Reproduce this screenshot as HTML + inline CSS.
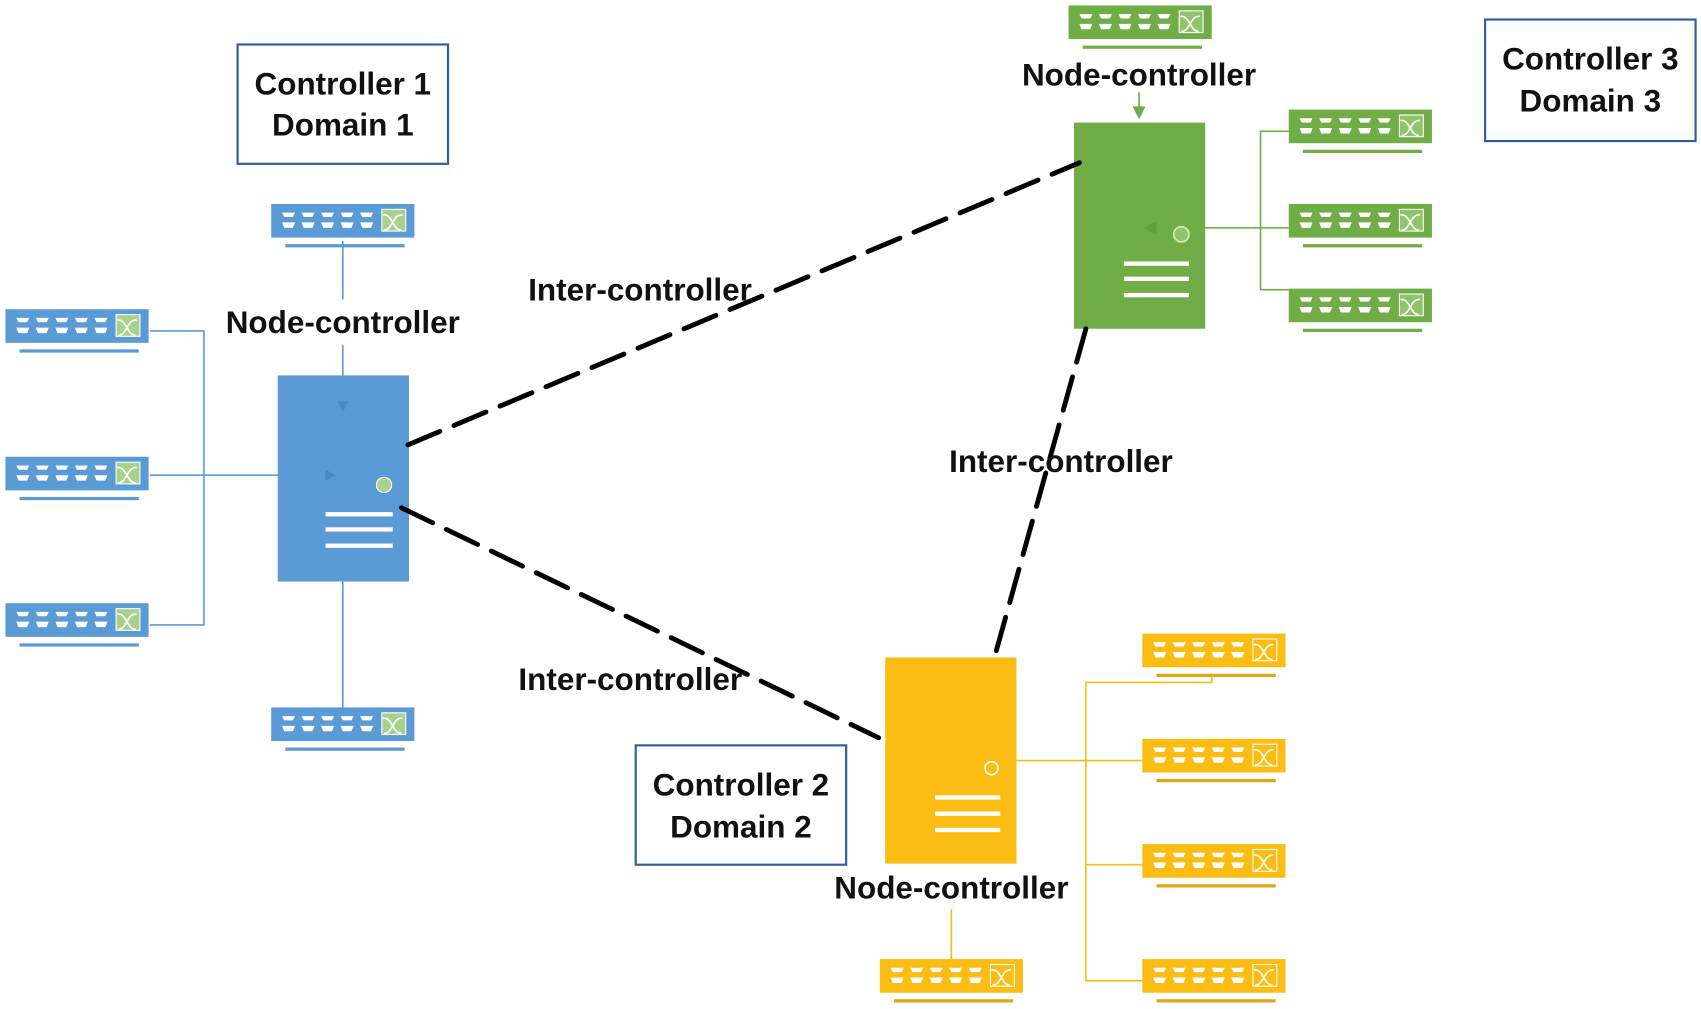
<!DOCTYPE html>
<html><head><meta charset="utf-8"><style>
html,body{margin:0;padding:0;background:#fff;width:1701px;height:1009px;overflow:hidden}
svg{display:block}
text{font-family:"Liberation Sans",sans-serif;font-weight:bold;fill:#111}
</style></head><body>
<svg width="1701" height="1009" viewBox="0 0 1568 930" preserveAspectRatio="none" xmlns="http://www.w3.org/2000/svg">
<defs>
<g id="ports" fill="#fff">
  <path d="M10 8h12l-2 4h-8z M28 8h12l-2 4h-8z M46 8h12l-2 4h-8z M64 8h12l-2 4h-8z M82 8h12l-2 4h-8z"/>
  <path d="M10 17h12l-2 5h-8z M28 17h12l-2 5h-8z M46 17h12l-2 5h-8z M64 17h12l-2 5h-8z M82 17h12l-2 5h-8z"/>
</g>
<g id="xicon" fill="none" stroke="#fff" stroke-width="1.5">
  <path d="M104 10 c8 0 8 14 16 14 M104 24 c8 0 8 -14 16 -14 M104 10h-1 M120 10h1"/>
</g>
</defs>

<g fill="#5b9bd5">
  <g stroke="#5b9bd5" stroke-width="1.5" fill="none">
    <line x1="316" y1="222" x2="316" y2="276"/>
    <line x1="316" y1="318" x2="316" y2="380"/>
    <polyline points="138,305 188,305 188,576 138,576"/>
    <line x1="138" y1="438" x2="310" y2="438"/>
    <line x1="316" y1="536" x2="316" y2="652"/>
  </g>
  <rect x="256" y="346" width="121" height="190"/>
  <path d="M311 370l5 10 5-10z M300 433l10 5-10 5z" fill="#4a88c4"/>
  <circle cx="354" cy="447" r="7" fill="#a9d18e" stroke="#fff" stroke-width="1"/>
  <g fill="#fff"><rect x="300" y="472" width="62" height="4"/><rect x="300" y="486" width="62" height="4"/><rect x="300" y="501" width="62" height="4"/></g>
</g>

<g>
  <g transform="translate(250,188)"><rect width="132" height="31" fill="#5b9bd5"/><rect x="13" y="37" width="110" height="3" fill="#5b9bd5"/><use href="#ports"/><rect x="102" y="5" width="22" height="20" fill="#a9d18e" stroke="#fff"/><use href="#xicon"/></g>
  <g transform="translate(5,285)"><rect width="132" height="31" fill="#5b9bd5"/><rect x="13" y="37" width="110" height="3" fill="#5b9bd5"/><use href="#ports"/><rect x="102" y="5" width="22" height="20" fill="#a9d18e" stroke="#fff"/><use href="#xicon"/></g>
  <g transform="translate(5,421)"><rect width="132" height="31" fill="#5b9bd5"/><rect x="13" y="37" width="110" height="3" fill="#5b9bd5"/><use href="#ports"/><rect x="102" y="5" width="22" height="20" fill="#a9d18e" stroke="#fff"/><use href="#xicon"/></g>
  <g transform="translate(5,556)"><rect width="132" height="31" fill="#5b9bd5"/><rect x="13" y="37" width="110" height="3" fill="#5b9bd5"/><use href="#ports"/><rect x="102" y="5" width="22" height="20" fill="#a9d18e" stroke="#fff"/><use href="#xicon"/></g>
  <g transform="translate(250,652)"><rect width="132" height="31" fill="#5b9bd5"/><rect x="13" y="37" width="110" height="3" fill="#5b9bd5"/><use href="#ports"/><rect x="102" y="5" width="22" height="20" fill="#a9d18e" stroke="#fff"/><use href="#xicon"/></g>
</g>

<g stroke="#70ad47" stroke-width="1.5" fill="none">
  <line x1="1050" y1="85" x2="1050" y2="104"/>
  <polyline points="1188,121 1162,121 1162,267 1188,267"/>
  <line x1="1188" y1="210" x2="1060" y2="210"/>
</g>
<path d="M1044 98h12l-6 12z" fill="#70ad47"/>
<rect x="990" y="113" width="121" height="190" fill="#70ad47"/>
<path d="M1066 204l-12 6 12 6z" fill="#63a03c"/>
<circle cx="1089" cy="216" r="7" fill="#8fc46a" stroke="#d6ecc6" stroke-width="1.5"/>
<g fill="#fff"><rect x="1036" y="241" width="60" height="4"/><rect x="1036" y="255" width="60" height="4"/><rect x="1036" y="270" width="60" height="4"/></g>
<g transform="translate(985,5)"><rect width="132" height="31" fill="#70ad47"/><rect x="13" y="37" width="110" height="3" fill="#70ad47"/><use href="#ports"/><rect x="102" y="5" width="22" height="20" fill="#8fc46a" stroke="#fff"/><use href="#xicon"/></g>
<g transform="translate(1188,101)"><rect width="132" height="31" fill="#70ad47"/><rect x="13" y="37" width="110" height="3" fill="#70ad47"/><use href="#ports"/><rect x="102" y="5" width="22" height="20" fill="#8fc46a" stroke="#fff"/><use href="#xicon"/></g>
<g transform="translate(1188,188)"><rect width="132" height="31" fill="#70ad47"/><rect x="13" y="37" width="110" height="3" fill="#70ad47"/><use href="#ports"/><rect x="102" y="5" width="22" height="20" fill="#8fc46a" stroke="#fff"/><use href="#xicon"/></g>
<g transform="translate(1188,266)"><rect width="132" height="31" fill="#70ad47"/><rect x="13" y="37" width="110" height="3" fill="#70ad47"/><use href="#ports"/><rect x="102" y="5" width="22" height="20" fill="#8fc46a" stroke="#fff"/><use href="#xicon"/></g>

<g stroke="#fbbd14" stroke-width="1.5" fill="none">
  <polyline points="1117,622 1117,629 1001,629 1001,904 1053,904"/>
  <line x1="937" y1="701" x2="1053" y2="701"/>
  <line x1="1001" y1="797" x2="1053" y2="797"/>
  <line x1="877" y1="838" x2="877" y2="884"/>
</g>
<rect x="816" y="606" width="121" height="190" fill="#fbbd14"/>
<circle cx="914" cy="708" r="6" fill="none" stroke="#fff" stroke-width="1.5"/>
<g fill="#fff"><rect x="862" y="733" width="60" height="4"/><rect x="862" y="748" width="60" height="4"/><rect x="862" y="763" width="60" height="4"/></g>
<g transform="translate(1053,584)"><rect width="132" height="31" fill="#fbbd14"/><rect x="13" y="37" width="110" height="3" fill="#e0a812"/><use href="#ports"/><rect x="102" y="5" width="22" height="20" fill="#fbbd14" stroke="#fff"/><use href="#xicon"/></g>
<g transform="translate(1053,681)"><rect width="132" height="31" fill="#fbbd14"/><rect x="13" y="37" width="110" height="3" fill="#e0a812"/><use href="#ports"/><rect x="102" y="5" width="22" height="20" fill="#fbbd14" stroke="#fff"/><use href="#xicon"/></g>
<g transform="translate(1053,778)"><rect width="132" height="31" fill="#fbbd14"/><rect x="13" y="37" width="110" height="3" fill="#e0a812"/><use href="#ports"/><rect x="102" y="5" width="22" height="20" fill="#fbbd14" stroke="#fff"/><use href="#xicon"/></g>
<g transform="translate(1053,884)"><rect width="132" height="31" fill="#fbbd14"/><rect x="13" y="37" width="110" height="3" fill="#e0a812"/><use href="#ports"/><rect x="102" y="5" width="22" height="20" fill="#fbbd14" stroke="#fff"/><use href="#xicon"/></g>
<g transform="translate(811,884)"><rect width="132" height="31" fill="#fbbd14"/><rect x="13" y="37" width="110" height="3" fill="#e0a812"/><use href="#ports"/><rect x="102" y="5" width="22" height="20" fill="#fbbd14" stroke="#fff"/><use href="#xicon"/></g>

<g stroke="#000" stroke-width="4.5" stroke-dasharray="32 14" stroke-linecap="round" fill="none">
  <line x1="376" y1="410" x2="995" y2="150"/>
  <line x1="370" y1="468" x2="810" y2="680"/>
  <line x1="1001" y1="303" x2="915" y2="612"/>
</g>

<g fill="#fff" stroke="#2e5f97" stroke-width="2">
  <rect x="219" y="41" width="194" height="110"/>
  <rect x="1369" y="18" width="194" height="112"/>
  <rect x="586" y="687" width="194" height="110"/>
</g>
<g font-size="29" text-anchor="middle">
  <text x="316" y="87">Controller 1</text><text x="316" y="125">Domain 1</text>
  <text x="1466" y="64">Controller 3</text><text x="1466" y="103">Domain 3</text>
  <text x="683" y="733">Controller 2</text><text x="683" y="772">Domain 2</text>
  <text x="316" y="307">Node-controller</text>
  <text x="1050" y="79">Node-controller</text>
  <text x="877" y="828">Node-controller</text>
  <text x="590" y="277">Inter-controller</text>
  <text x="581" y="636">Inter-controller</text>
  <text x="978" y="435">Inter-controller</text>
</g>
</svg>
</body></html>
